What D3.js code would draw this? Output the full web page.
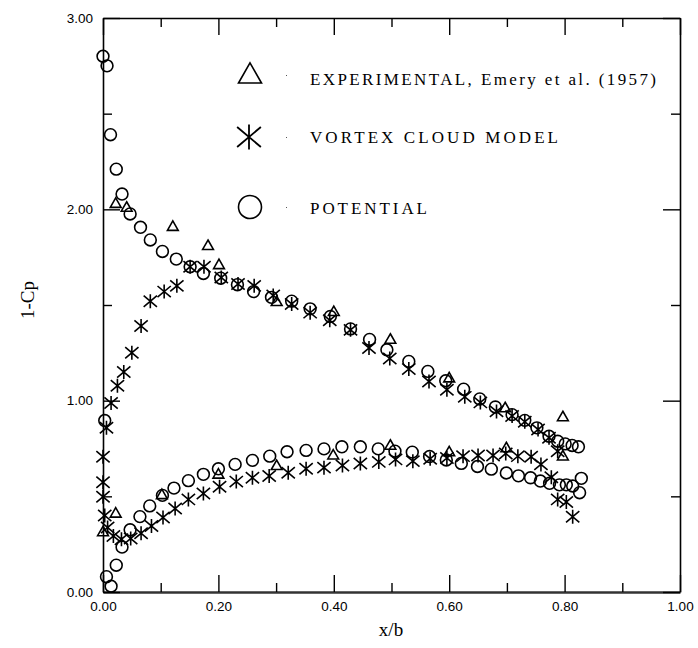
<!DOCTYPE html>
<html>
<head>
<meta charset="utf-8">
<script src="https://cdn.jsdelivr.net/npm/d3@7"></script>
<style>
  html, body { margin: 0; padding: 0; background: #fff; }
  svg { display: block; }
</style>
</head>
<body>
<svg id="chart" width="698" height="648"></svg>
<script>
// ---------- data ----------
const xMajorTicks = [0, 0.2, 0.4, 0.6, 0.8, 1.0];
const xMinorTicks = [0.1, 0.3, 0.5, 0.7, 0.9];
const xTickLabels = ["0.00", "0.20", "0.40", "0.60", "0.80", "1.00"];
const yMajorTicks = [0, 1, 2, 3];
const yMinorTicks = [0.5, 1.5, 2.5];
const yTickLabels = ["0.00", "1.00", "2.00", "3.00"];

const seriesNames = ["EXPERIMENTAL, Emery et al. (1957)", "VORTEX CLOUD MODEL", "POTENTIAL"];

const experimental = [
  [0.000,0.314],[0.022,0.411],[0.022,2.03],[0.041,2.01],[0.102,0.508],[0.121,1.91],
  [0.182,1.81],[0.200,0.615],[0.201,1.71],[0.301,1.517],[0.301,0.66],[0.399,0.715],
  [0.400,1.465],[0.498,1.32],[0.498,0.766],[0.600,1.118],[0.600,0.732],[0.697,0.962],
  [0.699,0.753],[0.797,0.915],[0.797,0.71]
];

const vortexUpper = [
  [0.014,0.988],[0.025,1.078],[0.036,1.15],[0.050,1.25],[0.066,1.39],[0.082,1.52],
  [0.106,1.57],[0.128,1.60],[0.151,1.70],[0.175,1.70],[0.205,1.644],[0.234,1.61],
  [0.262,1.60],[0.295,1.55],[0.327,1.505],[0.359,1.46],[0.393,1.42],[0.429,1.37],
  [0.461,1.275],[0.497,1.22],[0.530,1.165],[0.565,1.10],[0.596,1.057],[0.627,1.02],
  [0.654,0.991],[0.682,0.944],[0.709,0.92],[0.731,0.89],[0.754,0.849],[0.773,0.806],
  [0.788,0.736]
];
const vortexLower = [
  [0.006,0.858],[0.000,0.707],[0.000,0.574],[0.000,0.498],[0.003,0.40],[0.008,0.337],
  [0.018,0.293],[0.032,0.276],[0.048,0.28],[0.066,0.307],[0.084,0.345],[0.104,0.389],
  [0.125,0.436],[0.148,0.484],[0.174,0.515],[0.202,0.55],[0.231,0.577],[0.259,0.597],
  [0.288,0.606],[0.321,0.623],[0.352,0.644],[0.383,0.65],[0.415,0.661],[0.446,0.672],
  [0.478,0.68],[0.507,0.693],[0.537,0.684],[0.567,0.696],[0.596,0.70],[0.624,0.71],
  [0.650,0.713],[0.676,0.713],[0.698,0.724],[0.719,0.71],[0.742,0.707],[0.759,0.667],
  [0.777,0.60],[0.788,0.484],[0.803,0.47],[0.814,0.393]
];

const potentialUpper = [
  [0.000,2.80],[0.007,2.75],[0.013,2.39],[0.023,2.21],[0.033,2.08],[0.047,1.976],
  [0.065,1.906],[0.082,1.84],[0.103,1.78],[0.127,1.74],[0.151,1.70],[0.174,1.665],
  [0.204,1.64],[0.233,1.606],[0.261,1.57],[0.292,1.54],[0.327,1.52],[0.359,1.48],
  [0.394,1.44],[0.429,1.375],[0.462,1.32],[0.492,1.266],[0.530,1.205],[0.563,1.153],
  [0.594,1.104],[0.625,1.06],[0.653,1.009],[0.680,0.967],[0.709,0.927],[0.731,0.897],
  [0.752,0.858],[0.773,0.814],[0.788,0.788],[0.801,0.774],[0.813,0.766],[0.824,0.759]
];
const potentialLower = [
  [0.003,0.896],[0.006,0.08],[0.014,0.03],[0.023,0.14],[0.033,0.235],[0.047,0.325],
  [0.064,0.394],[0.081,0.45],[0.103,0.505],[0.123,0.543],[0.148,0.582],[0.174,0.615],
  [0.200,0.644],[0.229,0.667],[0.259,0.688],[0.289,0.71],[0.319,0.733],[0.352,0.74],
  [0.383,0.748],[0.414,0.759],[0.446,0.759],[0.477,0.748],[0.506,0.736],[0.536,0.731],
  [0.566,0.708],[0.595,0.69],[0.621,0.672],[0.649,0.656],[0.673,0.642],[0.699,0.622],
  [0.720,0.607],[0.741,0.597],[0.758,0.58],[0.774,0.568],[0.791,0.56],[0.803,0.56],
  [0.814,0.554],[0.826,0.519],[0.829,0.594]
];

// ---------- layout ----------
const plotL = 103, plotR = 680, plotT = 18, plotB = 592;
const svg = d3.select("#chart");
const x = d3.scaleLinear().domain([0, 1]).range([plotL, plotR]);
const y = d3.scaleLinear().domain([0, 3]).range([plotB, plotT]);

const MAJ = 17, MIN = 9;
const tickFont = "'Liberation Sans', Arial, sans-serif";
const serif = "'Liberation Serif', 'Times New Roman', serif";

function styleAxis(g) {
  g.select(".domain").attr("stroke", "#000").attr("stroke-width", 1.6);
  g.selectAll(".tick line").attr("stroke", "#000").attr("stroke-width", 1.4);
  g.selectAll("text").attr("font-family", tickFont).attr("font-size", 13.5).attr("fill", "#000");
}
function minor(g) {
  g.select(".domain").remove();
  g.selectAll(".tick line").attr("stroke", "#000").attr("stroke-width", 1.4);
}

// bottom
const gb = svg.append("g").attr("transform", `translate(0,${plotB})`)
  .call(d3.axisBottom(x).tickValues(xMajorTicks).tickSizeInner(-MAJ).tickSizeOuter(0)
    .tickPadding(9).tickFormat((d, i) => xTickLabels[i]));
styleAxis(gb);
gb.select(".domain").attr("stroke-width", 2.4).attr("stroke", "#333");
svg.append("g").attr("transform", `translate(0,${plotB})`)
  .call(d3.axisBottom(x).tickValues(xMinorTicks).tickSizeInner(-MIN).tickSizeOuter(0).tickFormat(""))
  .call(minor);

// top
const gt = svg.append("g").attr("transform", `translate(0,${plotT})`)
  .call(d3.axisTop(x).tickValues(xMajorTicks).tickSizeInner(-MAJ).tickSizeOuter(0).tickFormat(""));
styleAxis(gt);
svg.append("g").attr("transform", `translate(0,${plotT})`)
  .call(d3.axisTop(x).tickValues(xMinorTicks).tickSizeInner(-MIN).tickSizeOuter(0).tickFormat(""))
  .call(minor);

// left
const gl = svg.append("g").attr("transform", `translate(${plotL},0)`)
  .call(d3.axisLeft(y).tickValues(yMajorTicks).tickSizeInner(-MAJ).tickSizeOuter(0)
    .tickPadding(10).tickFormat((d, i) => yTickLabels[i]));
styleAxis(gl);
svg.append("g").attr("transform", `translate(${plotL},0)`)
  .call(d3.axisLeft(y).tickValues(yMinorTicks).tickSizeInner(-MIN).tickSizeOuter(0).tickFormat(""))
  .call(minor);

// right
const gr = svg.append("g").attr("transform", `translate(${plotR},0)`)
  .call(d3.axisRight(y).tickValues(yMajorTicks).tickSizeInner(-MAJ).tickSizeOuter(0).tickFormat(""));
styleAxis(gr);
svg.append("g").attr("transform", `translate(${plotR},0)`)
  .call(d3.axisRight(y).tickValues(yMinorTicks).tickSizeInner(-MIN).tickSizeOuter(0).tickFormat(""))
  .call(minor);

// axis titles
svg.append("text").attr("x", 391).attr("y", 636).attr("text-anchor", "middle")
  .attr("font-family", serif).attr("font-size", 19).text("x/b");
svg.append("text").attr("transform", "translate(34,300) rotate(-90)").attr("text-anchor", "middle")
  .attr("font-family", serif).attr("font-size", 19).text("1-Cp");

// ---------- markers ----------
function triPath(s) { // s = half width
  const h = s * 1.75;
  return `M0,${-h * 0.6}L${s},${h * 0.4}L${-s},${h * 0.4}Z`;
}
function starPath(r) {
  const dx = r * 0.95, dy = r * 0.8;
  return `M0,${-r}L0,${r}M${-dx},${-dy}L${dx},${dy}M${-dx},${dy}L${dx},${-dy}`;
}

const marks = svg.append("g").attr("fill", "none").attr("stroke", "#000").attr("stroke-width", 1.6);

marks.selectAll("circle.pot").data(potentialUpper.concat(potentialLower)).join("circle")
  .attr("class", "pot").attr("cx", d => x(d[0])).attr("cy", d => y(d[1])).attr("r", 5.9);

marks.selectAll("path.vor").data(vortexUpper.concat(vortexLower)).join("path")
  .attr("class", "vor").attr("transform", d => `translate(${x(d[0])},${y(d[1])})`)
  .attr("d", starPath(7));

marks.selectAll("path.exp").data(experimental).join("path")
  .attr("class", "exp").attr("transform", d => `translate(${x(d[0])},${y(d[1])})`)
  .attr("d", triPath(5.4));

// ---------- legend ----------
const legend = svg.append("g");
const legendRows = [
  { sym: "tri", cy: 75, ty: 85, len: 346 },
  { sym: "star", cy: 137, ty: 143, len: 248 },
  { sym: "circ", cy: 207, ty: 214, len: 117 }
];
legendRows.forEach((r, i) => {
  const g = legend.append("g").attr("fill", "none").attr("stroke", "#000").attr("stroke-width", 1.6);
  if (r.sym === "tri") g.append("path").attr("transform", `translate(250,${r.cy})`).attr("d", triPath(11.5));
  if (r.sym === "star") g.append("path").attr("transform", `translate(249,${r.cy})`).attr("d", starPath(12.5)).attr("stroke-width", 1.8);
  if (r.sym === "circ") g.append("circle").attr("cx", 250).attr("cy", r.cy).attr("r", 11.5);
  legend.append("rect").attr("x", 286).attr("y", r.cy).attr("width", 1).attr("height", 1).attr("fill", "#555");
  legend.append("text").attr("x", 310).attr("y", r.ty)
    .attr("font-family", serif).attr("font-size", 17)
    .attr("textLength", r.len).attr("lengthAdjust", "spacing")
    .text(seriesNames[i]);
});
</script>
</body>
</html>
